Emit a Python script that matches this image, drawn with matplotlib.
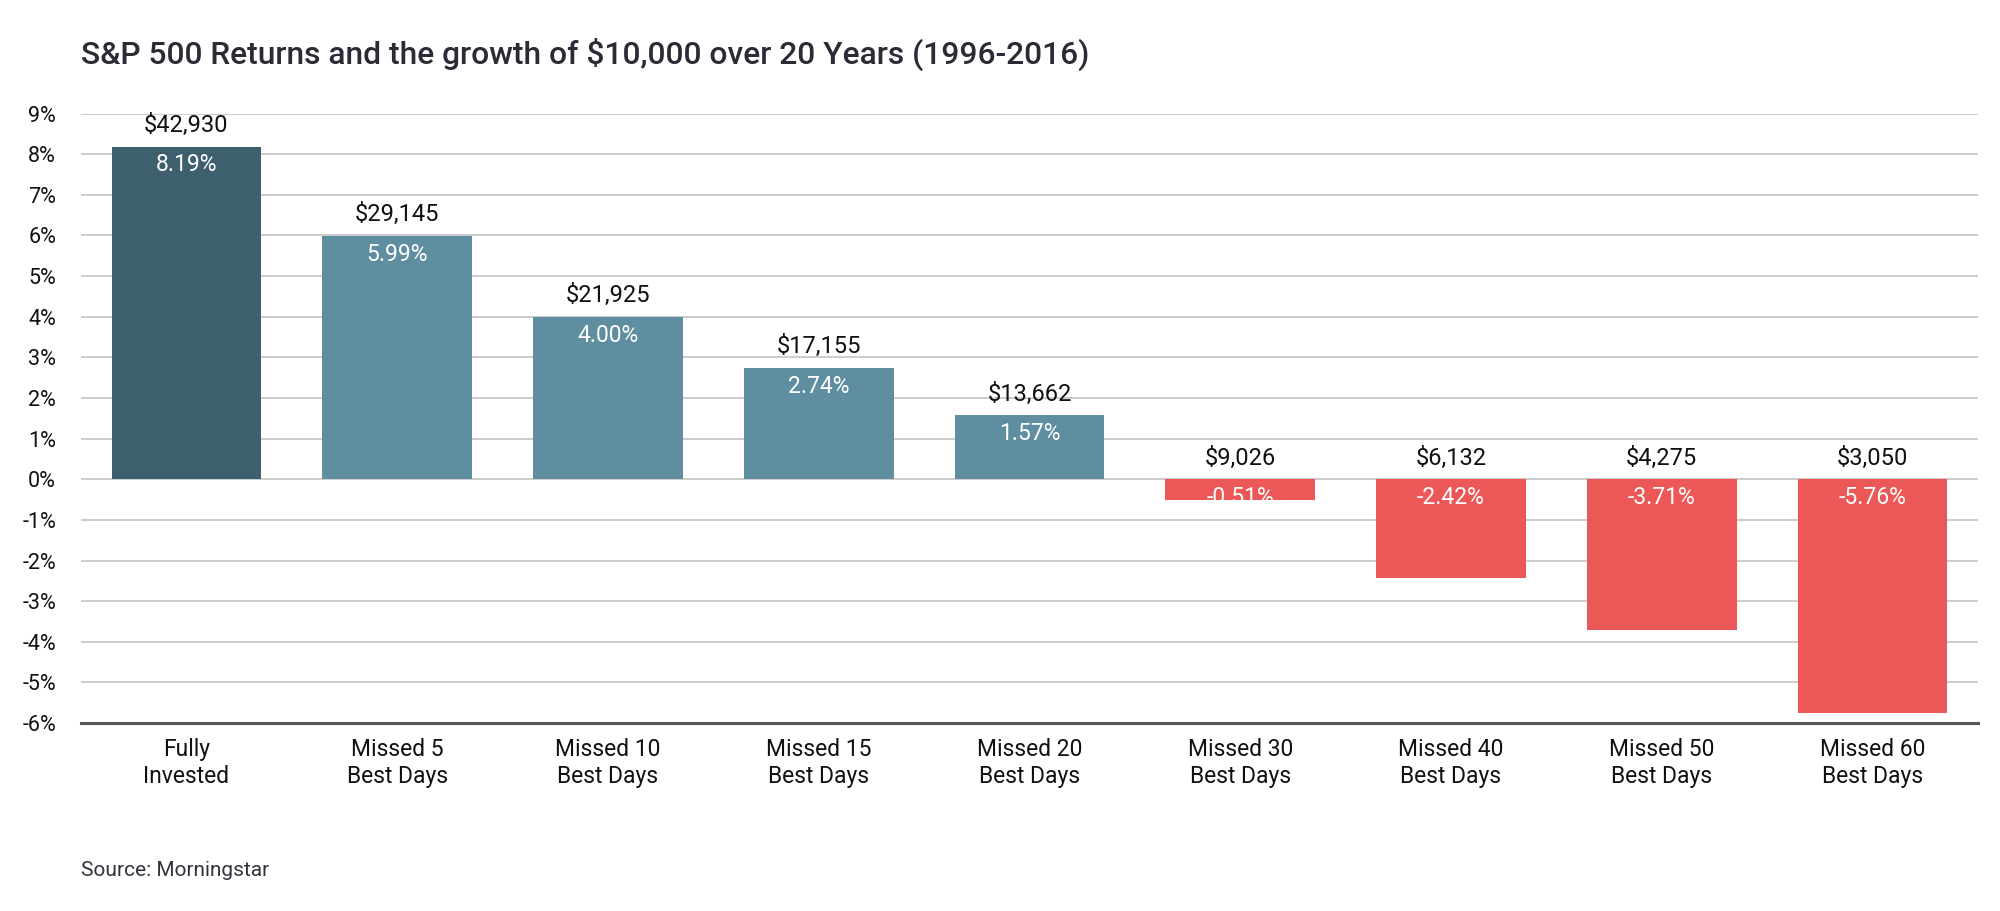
import matplotlib
matplotlib.use("Agg")
import matplotlib.pyplot as plt

plt.rcParams['font.family'] = ['Roboto', 'DejaVu Sans']

categories = ["Fully\nInvested", "Missed 5\nBest Days", "Missed 10\nBest Days",
              "Missed 15\nBest Days", "Missed 20\nBest Days", "Missed 30\nBest Days",
              "Missed 40\nBest Days", "Missed 50\nBest Days", "Missed 60\nBest Days"]
returns = [8.19, 5.99, 4.00, 2.74, 1.57, -0.51, -2.42, -3.71, -5.76]
growth = ["$42,930", "$29,145", "$21,925", "$17,155", "$13,662",
          "$9,026", "$6,132", "$4,275", "$3,050"]
yticks = list(range(-6, 10))

dark = '#3d5f6e'
mid = '#5f8ea0'
red = '#ec5757'
colors = [dark] + [mid if r >= 0 else red for r in returns[1:]]

fig = plt.figure(figsize=(20, 9.11), dpi=100)
ax = fig.add_axes([0.0405, 0.2063, 0.9485, 0.669])

x = list(range(len(categories)))
ax.bar(x, returns, width=0.71, color=colors, zorder=3)

ax.set_xlim(-0.5, len(categories) - 0.5)
ax.set_ylim(-6, 9)
ax.set_yticks(yticks)
ax.set_yticklabels([f"{t}%" for t in yticks])
ax.set_xticks(x)
ax.set_xticklabels(categories, linespacing=1.15)

ax.grid(axis='y', color='#cccccc', linewidth=1.4, zorder=0)
ax.tick_params(axis='x', length=0, colors='#111111', labelsize=16.5, pad=11)
ax.tick_params(axis='y', length=0, colors='#111111', labelsize=15.5, pad=18)
for side in ['top', 'right', 'left']:
    ax.spines[side].set_visible(False)
ax.spines['bottom'].set_color('#555555')
ax.spines['bottom'].set_linewidth(2.2)
ax.spines['bottom'].set_position(('data', -6))

for i, (r, g) in enumerate(zip(returns, growth)):
    top = max(r, 0)
    ax.annotate(g, (i, top), xytext=(0, 7), textcoords='offset points',
                ha='center', va='bottom', fontsize=17, color='#111111', zorder=4)
    ax.annotate(f"{r:.2f}%", (i, top), xytext=(0, -5), textcoords='offset points',
                ha='center', va='top', fontsize=16.5, color='white', zorder=4)

fig.text(0.0405, 0.94, "S&P 500 Returns and the growth of $10,000 over 20 Years (1996-2016)",
         fontsize=22.9, fontweight='medium', color='#2b2b38', va='center', ha='left')
fig.text(0.0405, 0.044, "Source: Morningstar", fontsize=15, color='#333340',
         va='center', ha='left')

fig.savefig("out.png", dpi=100)
